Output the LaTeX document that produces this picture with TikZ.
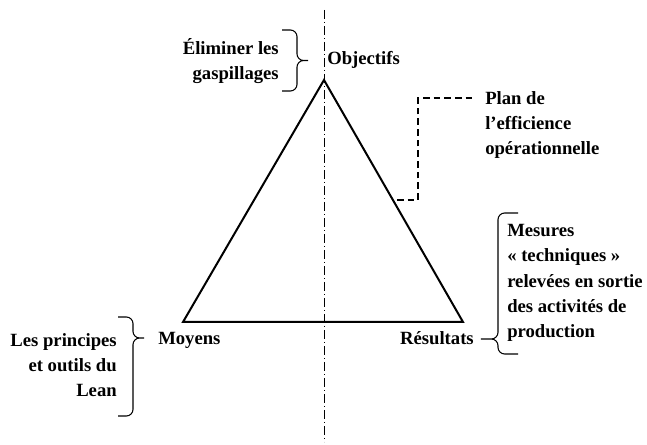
\documentclass[tikz,border=0pt]{standalone}
\usepackage{fontspec}
\setmainfont{Liberation Serif}
\usetikzlibrary{positioning,calc}

\begin{document}
\begin{tikzpicture}[
x=0.75pt,y=-0.75pt,
label/.style={
  font=\bfseries\fontsize{14}{19}\selectfont,
  inner sep=0pt,
  align=left},
mybrace/.style={
  line width=0.8pt,
  rounded corners=5pt}
]
\useasboundingbox (0,0) rectangle (647,445);
% axe de symetrie
\draw[line width=0.7pt,dash pattern=on 7pt off 2pt on 1pt off 2pt]
  (324,10) coordinate (T) -- (324,442) coordinate (U);
% triangle
\draw[line width=1.5pt,line join=miter]
  (324,80) coordinate (O) --
  (463,322) coordinate (R) --
  (183,322) coordinate (M) -- cycle;
% sommets
\node[label,anchor=west] (obj) at (327,60) {Objectifs};
\node[label,anchor=west] (moy) at (158,340) {Moyens};
\node[label,anchor=east] (res) at (474,338) {Résultats};
% textes
\node[label,anchor=east,align=right] (gasp) at (279,61)
  {Éliminer les\\gaspillages};
\node[label,anchor=west] (plan) at (485,125)
  {Plan de\\l’efficience\\opérationnelle};
\node[label,anchor=west] (mes) at (507,283)
  {Mesures\\« techniques »\\relevées en sortie\\des activités de\\production};
\node[label,anchor=east,align=right] (lean) at (117,365)
  {Les principes\\et outils du\\Lean};
% accolades
\coordinate (BG) at (312,60.5);
\draw[mybrace] (282,30) -- (297,30) -- (297,60.5) -- (BG)
  -- (297,60.5) -- (297,91) -- (282,91);
\coordinate (BL) at (148,338);
\draw[mybrace] (118,317) -- (133,317) -- (133,338) -- (BL)
  -- (133,338) -- (133,416) -- (118,416);
\coordinate (BR) at ($(res.east)+(3,1)$);
\draw[mybrace] (518,213) -- (498,213) -- (498,339) -- (BR)
  -- (498,339) -- (498,354) -- (518,354);
% plan d'efficience
\draw[line width=1.3pt,dash pattern=on 5pt off 3pt]
  (397,200) coordinate (P1) --
  (418,200) coordinate (P2) --
  (418,98) coordinate (P3) --
  (472,98) coordinate (P4);
\end{tikzpicture}
\end{document}
